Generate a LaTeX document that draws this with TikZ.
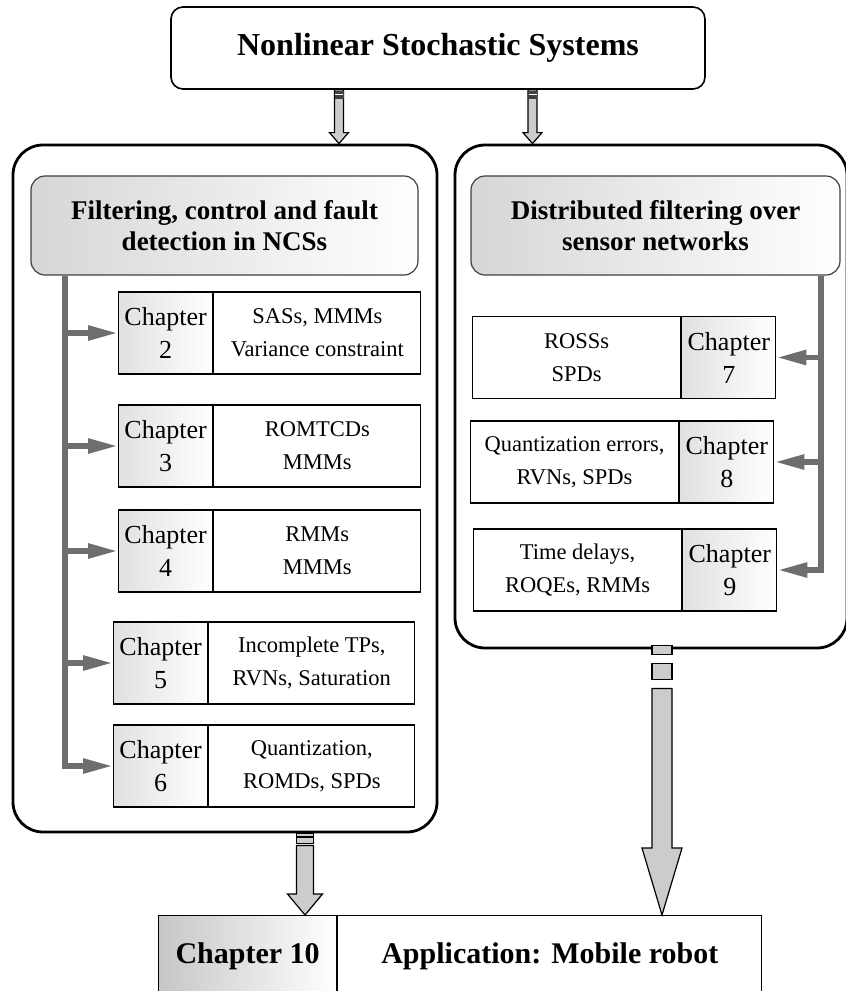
\documentclass[tikz,border=0pt]{standalone}
\usepackage{fontspec}
\setmainfont{Liberation Serif}
\usetikzlibrary{arrows.meta,positioning,calc}

% hollow block arrow: from, to, half shaft, half head, head length
\newcommand{\blockarrow}[5]{%
  \filldraw[fill=black!20, line width=0.6pt] let \p1=(#1), \p2=(#2) in
    (\x1-#3,\y1) -- (\x1-#3,\y2+#5) -- (\x1-#4,\y2+#5) -- (\x2,\y2)
    -- (\x1+#4,\y2+#5) -- (\x1+#3,\y2+#5) -- (\x1+#3,\y1) -- cycle;}

\begin{document}
\begin{tikzpicture}[x=0.5pt, y=-0.5pt, line join=miter]
	\tikzstyle{sys} = [draw, rounded corners=6pt, line width=0.8pt, minimum width=267pt, minimum height=41pt, font=\bfseries\fontsize{16}{19}\selectfont]
	\tikzstyle{frame} = [draw, rounded corners=15pt, line width=1.4pt]
	\tikzstyle{topic} = [draw=black!75, rounded corners=7pt, line width=0.6pt, left color=black!16, right color=white, align=center, minimum height=49.5pt, font=\bfseries\fontsize{13.5}{15.5}\selectfont]
	\tikzstyle{chap} = [draw, line width=0.6pt, left color=black!12, right color=white, align=center, minimum width=47pt, minimum height=41pt, inner sep=0pt, font=\fontsize{13}{16.5}\selectfont]
	\tikzstyle{cont} = [draw, line width=0.6pt, fill=white, align=center, minimum height=41pt, inner sep=0pt, font=\fontsize{11.25}{16.5}\selectfont]
	\tikzstyle{bus} = [draw=black!57, line width=2.8pt, -{Triangle[length=15pt,width=7pt]}]
	\useasboundingbox (0,0) rectangle (846,991);
	% top
	\node[sys] (nss) at (438,48) {Nonlinear Stochastic Systems};
	% the two frames
	\node[frame, minimum width=212pt, minimum height=343.5pt] (frameL) at (225,488.5) {};
	\node[frame, minimum width=196pt, minimum height=251.5pt] (frameR) at (651,396.5) {};
	\node[topic, minimum width=193.5pt] (ncs) at (224.5,225.5) {Filtering, control and fault\\detection in NCSs};
	\node[topic, minimum width=184.5pt] (dsn) at (655.5,225.5) {Distributed filtering over\\sensor networks};
	% left chapters
	\node[chap, anchor=west] (c2) at (118,333) {Chapter\\2};
	\node[cont, minimum width=103.5pt, right=0pt of c2] (t2) {SASs, MMMs\\Variance constraint};
	\node[chap, anchor=west] (c3) at (118,446) {Chapter\\3};
	\node[cont, minimum width=103.5pt, right=0pt of c3] (t3) {ROMTCDs\\MMMs};
	\node[chap, anchor=west] (c4) at (118,551) {Chapter\\4};
	\node[cont, minimum width=103.5pt, right=0pt of c4] (t4) {RMMs\\MMMs};
	\node[chap, anchor=west] (c5) at (113,663) {Chapter\\5};
	\node[cont, minimum width=103pt, right=0pt of c5] (t5) {Incomplete TPs,\\RVNs, Saturation};
	\node[chap, anchor=west] (c6) at (113,766) {Chapter\\6};
	\node[cont, minimum width=103pt, right=0pt of c6] (t6) {Quantization,\\ROMDs, SPDs};
	% right chapters
	\node[cont, minimum width=104pt, anchor=west] (t7) at (472,357.5) {ROSSs\\SPDs};
	\node[chap, right=0pt of t7] (c7) {Chapter\\7};
	\node[cont, minimum width=104pt, anchor=west] (t8) at (470,462) {Quantization errors,\\RVNs, SPDs};
	\node[chap, right=0pt of t8] (c8) {Chapter\\8};
	\node[cont, minimum width=104pt, anchor=west] (t9) at (473,570) {Time delays,\\ROQEs, RMMs};
	\node[chap, right=0pt of t9] (c9) {Chapter\\9};
	% bottom
	\node[chap, minimum width=89pt, anchor=north west, left color=black!22, font=\bfseries\fontsize{15}{18}\selectfont] (c10) at (158,915) {Chapter 10};
	\node[cont, minimum width=212pt, right=0pt of c10, font=\bfseries\fontsize{15}{18}\selectfont] (app) {Application: Mobile robot};
	% buses
	\coordinate (lbus) at (ncs.south -| 65,0);
	\coordinate (rbus) at (dsn.south -| 821,0);
	\draw[bus] (lbus) |- (c6.west);
	\foreach \c in {c2,c3,c4,c5}
		\draw[bus] (lbus |- \c.west) -- (\c.west);
	\draw[bus] (rbus) |- (c9.east);
	\foreach \c in {c7,c8}
		\draw[bus] (rbus |- \c.east) -- (\c.east);
	% block arrows
	\coordinate (s1) at (nss.south -| 339,0);
	\coordinate (s2) at (nss.south -| 532.5,0);
	\blockarrow{s1}{s1 |- frameL.north}{2.25pt}{4.75pt}{5.5pt}
	\blockarrow{s2}{s2 |- frameR.north}{2.25pt}{4.75pt}{5.5pt}
	\foreach \s in {s1,s2} {
		\fill[black!75] ($(\s)+(-4.5,1)$) rectangle ($(\s)+(4.5,9)$);
		\draw[white, line width=0.5pt] ($(\s)+(-4,5)$) -- ($(\s)+(4,5)$);
	}
	\coordinate (la) at (frameL.south -| 305,0);
	\coordinate (ra) at (frameR.south -| 662,0);
	\filldraw[fill=black!20, line width=0.6pt] ($(la)+(-8.5,0)$) rectangle ($(la)+(8.5,3)$);
	\filldraw[fill=black!20, line width=0.6pt] ($(la)+(-8.5,4)$) rectangle ($(la)+(8.5,10)$);
	\blockarrow{$(la)+(0,12)$}{la |- c10.north}{4.25pt}{8.75pt}{10.5pt}
	\filldraw[fill=black!20, line width=0.6pt] ($(ra)+(-10,-4)$) rectangle ($(ra)+(10,5)$);
	\filldraw[fill=black!20, line width=0.6pt] ($(ra)+(-10,14)$) rectangle ($(ra)+(10,30)$);
	\blockarrow{$(ra)+(0,39)$}{ra |- app.north}{5pt}{10pt}{33.5pt}
\end{tikzpicture}
\end{document}
